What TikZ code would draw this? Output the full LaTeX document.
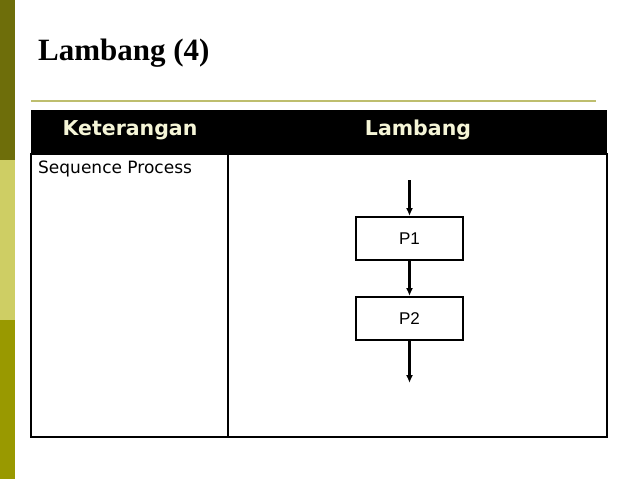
\documentclass[tikz,border=0pt]{standalone}
\usepackage{fontspec}
\usetikzlibrary{arrows.meta}
\setmainfont{Liberation Serif}
\newfontfamily\djsans{DejaVu Sans}
\newfontfamily\libsans{Liberation Sans}
\definecolor{band1}{RGB}{110,110,10}
\definecolor{band2}{RGB}{206,206,100}
\definecolor{band3}{RGB}{153,153,0}
\definecolor{rulecol}{RGB}{190,190,110}
\definecolor{headtxt}{RGB}{245,245,215}
\begin{document}
\begin{tikzpicture}[x=1pt,y=-1pt,
  procbox/.style={draw,line width=2pt,minimum width=107pt,minimum height=43pt,inner sep=0,font=\libsans\fontsize{17}{19}\selectfont},
  flow/.style={line width=2.2pt,-{Latex[length=8pt,width=7pt]}}]
\useasboundingbox (0,0) rectangle (638,479);
\fill[band1] (0,0) rectangle (15,160);
\fill[band2] (0,160) rectangle (15,320);
\fill[band3] (0,320) rectangle (15,479);
\node[anchor=base west,inner sep=0,font=\bfseries\fontsize{31}{36}\selectfont] (title) at (38,60) {Lambang (4)};
\draw[rulecol,line width=1.6pt] (31,101) -- (596,101);
\fill[black] (31,110) rectangle (607,154);
\draw[line width=1.3pt] (31,154) rectangle (607,437);
\draw[line width=1.3pt] (228,154) -- (228,437);
\node[font=\djsans\bfseries\fontsize{20.5}{24}\selectfont,text=headtxt] (h1) at (130,130) {Keterangan};
\node[font=\djsans\bfseries\fontsize{20.5}{24}\selectfont,text=headtxt] (h2) at (418,130) {Lambang};
\node[anchor=west,inner sep=0,font=\djsans\fontsize{17}{19}\selectfont] (s) at (38,169) {Sequence Process};
\node[procbox] (p1) at (409.5,238.5) {P1};
\node[procbox] (p2) at (409.5,318.5) {P2};
\coordinate (top) at (409.5,180);
\coordinate (bot) at (409.5,383);
\draw[flow] (top) -- (p1.north);
\draw[flow] (p1.south) -- (p2.north);
\draw[flow] (p2.south) -- (bot);
\end{tikzpicture}
\end{document}
